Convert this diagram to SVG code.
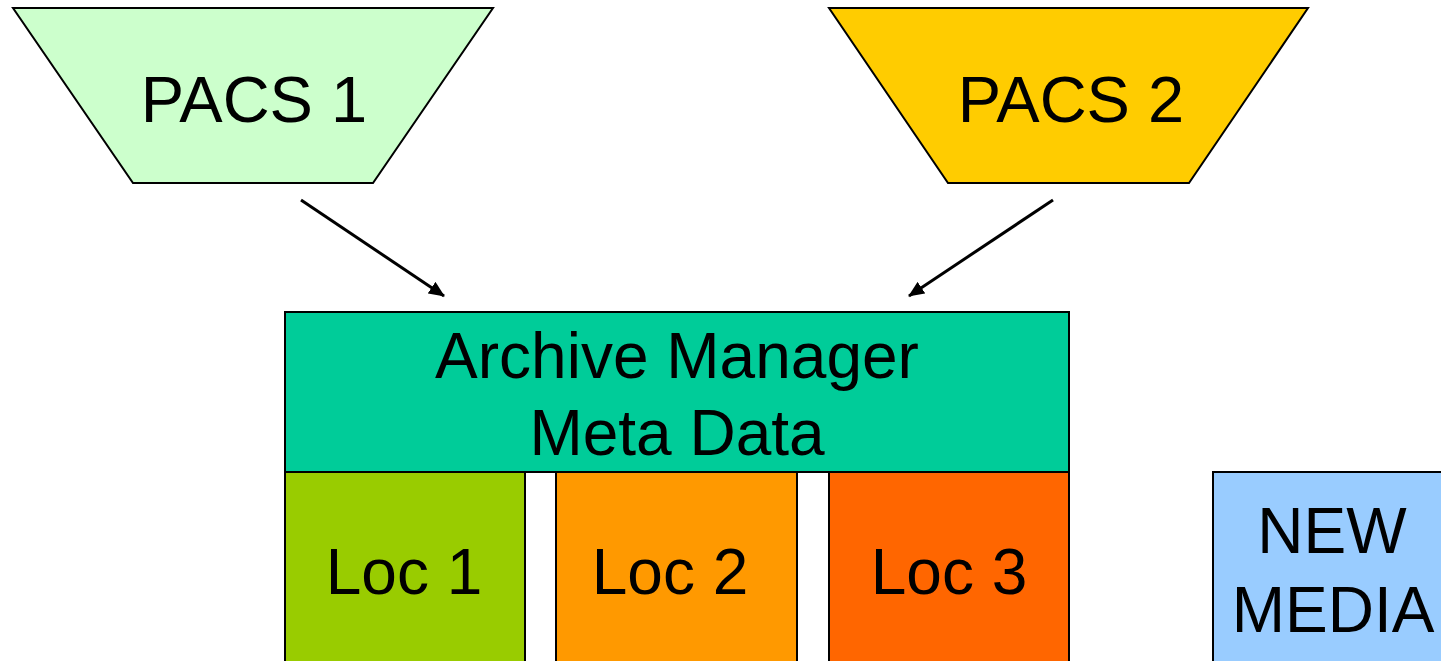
<svg xmlns="http://www.w3.org/2000/svg" width="1441" height="661" viewBox="0 0 1441 661">
  <style>
    .shape { stroke: #000; stroke-width: 2; }
    .label { font-family: "Liberation Sans", Arial, sans-serif; font-size: 64px; fill: #000; text-anchor: middle; }
    .big { font-size: 65px; }
    .conn { stroke: #000; stroke-width: 3; fill: none; marker-end: url(#arrow); }
  </style>
  <defs>
    <marker id="arrow" markerUnits="userSpaceOnUse" markerWidth="16" markerHeight="14" refX="15" refY="7" orient="auto">
      <path d="M0,0 L16,7 L0,14 Z" fill="#000"/>
    </marker>
  </defs>
  <rect width="1441" height="661" fill="#fff"/>

  <g id="pacs1">
    <polygon class="shape" points="13,8 493,8 373,183 133,183" fill="#CCFFCC"/>
    <text class="label big" x="254" y="122">PACS 1</text>
  </g>

  <g id="pacs2">
    <polygon class="shape" points="829,8 1308,8 1189,183 948,183" fill="#FFCC00"/>
    <text class="label big" x="1071" y="122">PACS 2</text>
  </g>

  <g id="archive-manager">
    <rect class="shape" x="285" y="312" width="784" height="160" fill="#00CC99"/>
    <text class="label" x="677" y="378">Archive Manager</text>
    <text class="label" x="677" y="455">Meta Data</text>
  </g>

  <g id="loc1">
    <rect class="shape" x="285" y="472" width="240" height="200" fill="#99CC00"/>
    <text class="label" x="404" y="594">Loc 1</text>
  </g>

  <g id="loc2">
    <rect class="shape" x="556" y="472" width="241" height="200" fill="#FF9900"/>
    <text class="label" x="670" y="594">Loc 2</text>
  </g>

  <g id="loc3">
    <rect class="shape" x="829" y="472" width="240" height="200" fill="#FF6600"/>
    <text class="label" x="949" y="594">Loc 3</text>
  </g>

  <g id="new-media">
    <rect class="shape" x="1213" y="472" width="240" height="200" fill="#99CCFF"/>
    <text class="label" x="1332" y="553">NEW</text>
    <text class="label" x="1333" y="632">MEDIA</text>
  </g>

  <g id="connectors">
    <line class="conn" x1="301" y1="200" x2="444" y2="296"/>
    <line class="conn" x1="1053" y1="200" x2="909" y2="296"/>
  </g>
</svg>
